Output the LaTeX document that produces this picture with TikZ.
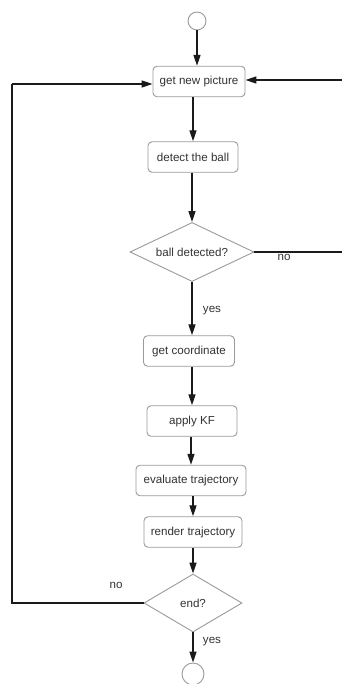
\documentclass[tikz,border=0pt]{standalone}
\usepackage{fontspec}
\setmainfont{Liberation Sans}
\usetikzlibrary{shapes.geometric,arrows.meta,calc}
\definecolor{boxline}{HTML}{9A9A9A}
\definecolor{txt}{HTML}{333333}
\definecolor{flow}{HTML}{1A1A1A}
\tikzset{
  x=1pt, y=-1pt,
  every node/.style={font=\fontsize{11.6}{13}\selectfont, text=txt},
  stepbox/.style={draw=boxline, line width=0.9pt, rounded corners=4pt, fill=white,
    minimum height=30.5pt, inner sep=0pt},
  decision/.style={draw=boxline, line width=0.9pt, diamond, aspect=2.1, inner sep=0pt, fill=white},
  terminal/.style={draw=boxline, line width=0.9pt, circle, inner sep=0pt, fill=white},
  flowline/.style={draw=flow, line width=1.3pt, -{Triangle[length=11pt,width=7pt]}},
  plainline/.style={draw=flow, line width=1.3pt},
  lbl/.style={font=\fontsize{11.6}{13}\selectfont, text=txt, inner sep=0pt}
}
\begin{document}
\begin{tikzpicture}
\useasboundingbox (0,0) rectangle (342,684);

% nodes
\node[terminal, minimum size=18pt] (start) at (197,21) {};
\node[stepbox, minimum width=92pt] (gnp) at (199,81.5) {get new picture};
\node[stepbox, minimum width=90pt] (detect) at (193,157) {detect the ball};
\node[decision, minimum width=124pt, minimum height=59pt] (found) at (192,252) {ball detected?};
\node[stepbox, minimum width=91pt] (coord) at (189,351) {get coordinate};
\node[stepbox, minimum width=90pt] (kf) at (192,421) {apply KF};
\node[stepbox, minimum width=110pt] (eval) at (191,480.5) {evaluate trajectory};
\node[stepbox, minimum width=98pt] (render) at (193,532) {render trajectory};
\node[decision, minimum width=98pt, minimum height=58pt] (done) at (193,603) {end?};
\node[terminal, minimum size=22pt] (stop) at (193,674) {};

% main flow
\draw[flowline] (start.south) -- (start.south |- gnp.north);
\draw[flowline] (detect.north |- gnp.south) -- (detect.north);
\draw[flowline] (found.north |- detect.south) -- (found.north);
\draw[flowline] (found.south) -- (found.south |- coord.north);
\draw[flowline] (kf.north |- coord.south) -- (kf.north);
\draw[flowline] (eval.north |- kf.south) -- (eval.north);
\draw[flowline] (render.north |- eval.south) -- (render.north);
\draw[flowline] (render.south) -- (done.north);
\draw[flowline] (done.south) -- (stop.north);
\node[lbl] (yesfound) at (212,311) {yes};
\node[lbl] (yesdone) at (212,642) {yes};

% loop back when no ball is found
\coordinate (rtop) at (348,80);
\coordinate (rbot) at (348,252);
\draw[plainline] (found.east) -- (rbot) -- (rtop);
\draw[flowline] (rtop) -- (gnp.east |- rtop);
\node[lbl] (nofound) at (284,257) {no};

% loop back until the end
\coordinate (lbot) at (12,603);
\coordinate (ltop) at (12,84);
\draw[plainline] (done.west) -- (lbot) -- (ltop);
\draw[flowline] (ltop) -- (gnp.west |- ltop);
\node[lbl] (nodone) at (116,585) {no};
\end{tikzpicture}
\end{document}
